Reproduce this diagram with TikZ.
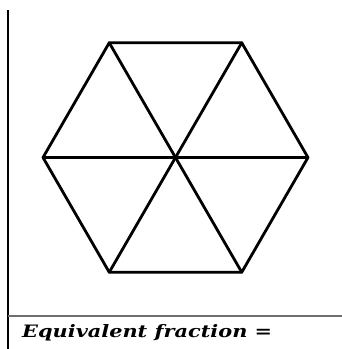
\documentclass[tikz,border=0pt]{standalone}
\usepackage{fontspec}
\setmainfont{DejaVu Serif}
\usetikzlibrary{calc}
\definecolor{rulegray}{RGB}{110,110,110}

\begin{document}
\begin{tikzpicture}[x=1pt, y=-1pt,
    edge/.style={line width=2.8pt, black, line join=round, line cap=round},
    frame/.style={line width=1.8pt, black},
    rule/.style={line width=1.6pt, rulegray},
    caption/.style={anchor=base west, inner sep=0pt, font=\bfseries\itshape}]

    \useasboundingbox (0,0) rectangle (342,349);

    % Centre and corners of the hexagon
    \coordinate (c) at (175.5,157.5);
    \foreach \i in {0,...,5}
        \coordinate (v\i) at ($(c)+(\i*60:132.5)$);

    % Outline
    \draw[edge] (v0) -- (v1) -- (v2) -- (v3) -- (v4) -- (v5) -- cycle;

    % Spokes
    \draw[edge] (v0) -- (v3);
    \draw[edge] (v1) -- (v4);
    \draw[edge] (v2) -- (v5);

    % Frame
    \coordinate (ftop) at (8,10);
    \coordinate (fbot) at (8,349);
    \coordinate (rl) at (8,316);
    \coordinate (rr) at (342,316);
    \draw[frame] (ftop) -- (fbot);
    \draw[rule] (rl) -- (rr);

    % Label
    \node[caption] (eqfrac) at (22,337) {\resizebox{250pt}{13pt}{Equivalent fraction =}};

\end{tikzpicture}
\end{document}
